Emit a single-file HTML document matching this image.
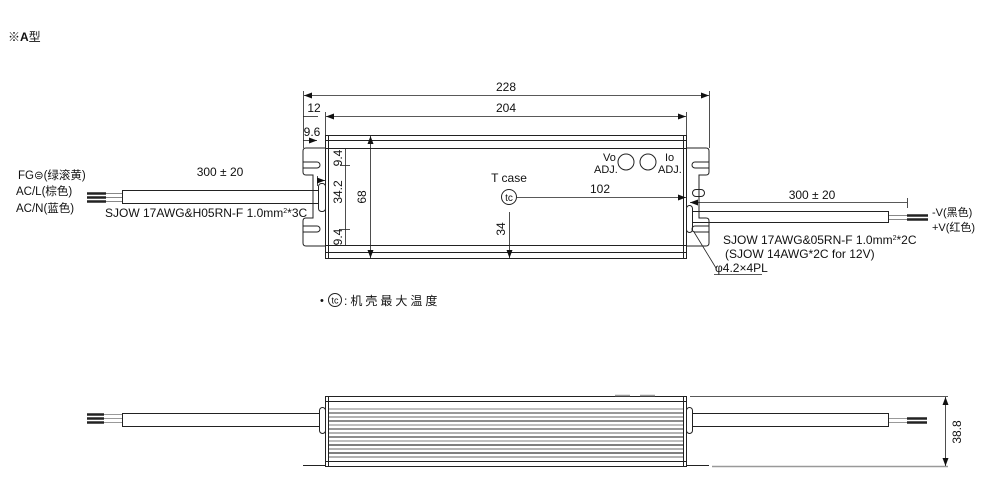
<!DOCTYPE html>
<html><head><meta charset="utf-8"><style>
html,body{margin:0;padding:0;background:#fff;}
svg{display:block;}
text{font-family:"Liberation Sans","Noto Sans CJK SC",sans-serif;fill:#111;}
</style></head><body>
<svg width="984" height="489" viewBox="0 0 984 489" xmlns="http://www.w3.org/2000/svg">
<defs>
<marker id="a" markerWidth="8" markerHeight="6" refX="8" refY="3" orient="auto-start-reverse" markerUnits="userSpaceOnUse"><path d="M0,0 L8,3 L0,6 z" fill="#111"/></marker>
</defs>
<text x="8" y="41" font-size="12" font-weight="bold">※A<tspan font-weight="normal">型</tspan></text>

<g stroke="#222" fill="none" stroke-width="1">
<rect x="325.5" y="135.5" width="361" height="123"/>
<line x1="328.5" y1="136" x2="328.5" y2="258"/>
<line x1="683.5" y1="136" x2="683.5" y2="258"/>
<line x1="326" y1="140.5" x2="686" y2="140.5"/>
<line x1="326" y1="148.5" x2="686" y2="148.5"/>
<line x1="326" y1="245.5" x2="686" y2="245.5"/>
<line x1="326" y1="252.5" x2="686" y2="252.5"/>
<path d="M325,148 H306 Q303,148 303,151 V172 Q303,175 306,175 L313,175 V218 L306,218 Q303,218 303,221 V243 Q303,246 306,246 H325"/>
<path d="M303,162 H317 A3,3 0 0 1 317,168 H303"/>
<path d="M303,226 H317 A3,3 0 0 1 317,232 H303"/>
<path d="M686,148 H706 Q709,148 709,151 V172 Q709,175 706,175 L699,175 V218 L706,218 Q709,218 709,221 V243 Q709,246 706,246 H686"/>
<path d="M709,162 H695 A3,3 0 0 0 695,168 H709"/>
<path d="M709,226 H695 A3,3 0 0 0 695,232 H709"/>
<rect x="692.5" y="189.5" width="12" height="7" rx="3.5"/>
<rect x="318.5" y="183.5" width="7" height="28" rx="3"/>
<rect x="686.5" y="205.5" width="6" height="27" rx="3"/>
<rect x="122.5" y="190.5" width="196" height="13"/>
<line x1="106" y1="193.5" x2="122" y2="193.5" stroke="#888"/>
<line x1="106" y1="197.5" x2="122" y2="197.5" stroke="#888"/>
<line x1="106" y1="201.5" x2="122" y2="201.5" stroke="#888"/>
<line x1="87" y1="193.5" x2="106" y2="193.5" stroke-width="2.5"/>
<line x1="87" y1="197.5" x2="106" y2="197.5" stroke-width="2.5"/>
<line x1="87" y1="201.5" x2="106" y2="201.5" stroke-width="2.5"/>
<rect x="692.5" y="211.5" width="196" height="11"/>
<line x1="889" y1="215.5" x2="907" y2="215.5" stroke="#888"/>
<line x1="889" y1="219.5" x2="907" y2="219.5" stroke="#888"/>
<line x1="907" y1="215.5" x2="928" y2="215.5" stroke-width="2.5"/>
<line x1="907" y1="219.5" x2="928" y2="219.5" stroke-width="2.5"/>
<circle cx="626" cy="162" r="8"/>
<circle cx="648" cy="162" r="8"/>
<circle cx="509" cy="197" r="7.5"/>
</g>

<g stroke="#222" stroke-width="0.8" fill="none">
<line x1="303.5" y1="91" x2="303.5" y2="148"/>
<line x1="709.5" y1="91" x2="709.5" y2="148"/>
<line x1="325.5" y1="112" x2="325.5" y2="135"/>
<line x1="686.5" y1="112" x2="686.5" y2="135"/>
<line x1="304" y1="95.5" x2="709" y2="95.5" marker-start="url(#a)" marker-end="url(#a)"/>
<line x1="326" y1="116.5" x2="686" y2="116.5" marker-start="url(#a)" marker-end="url(#a)"/>
<line x1="303" y1="116.5" x2="318" y2="116.5"/>
<line x1="303" y1="140.5" x2="317" y2="140.5" marker-end="url(#a)"/>
<line x1="370.5" y1="136" x2="370.5" y2="258" marker-start="url(#a)" marker-end="url(#a)"/>
<line x1="345.5" y1="149" x2="345.5" y2="245"/>
<line x1="340" y1="165.5" x2="350" y2="165.5"/>
<line x1="340" y1="229.5" x2="350" y2="229.5"/>
<line x1="517" y1="197.5" x2="686" y2="197.5" marker-end="url(#a)"/>
<line x1="509.5" y1="212" x2="509.5" y2="258" marker-end="url(#a)"/>
<line x1="317.5" y1="176" x2="317.5" y2="186"/>
<line x1="318" y1="180.5" x2="325" y2="180.5" marker-end="url(#a)"/>
<line x1="907.5" y1="198" x2="907.5" y2="208"/>
<line x1="690" y1="202.5" x2="907" y2="202.5" marker-start="url(#a)"/>
<line x1="694" y1="232" x2="716" y2="268"/>
<line x1="714" y1="274.5" x2="762" y2="274.5"/>
</g>

<g font-size="12">
<text x="506" y="91" text-anchor="middle">228</text>
<text x="506" y="112" text-anchor="middle">204</text>
<text x="314" y="112" text-anchor="middle">12</text>
<text x="312" y="136" text-anchor="middle">9.6</text>
<text transform="translate(366,197) rotate(-90)" text-anchor="middle">68</text>
<text transform="translate(342,192) rotate(-90)" text-anchor="middle">34.2</text>
<text transform="translate(342,158) rotate(-90)" text-anchor="middle">9.4</text>
<text transform="translate(342,237) rotate(-90)" text-anchor="middle">9.4</text>
<text transform="translate(505,229) rotate(-90)" text-anchor="middle">34</text>
<text x="509" y="182" text-anchor="middle">T case</text>
<text x="509" y="201" text-anchor="middle" font-size="10">tc</text>
<text x="600" y="193" text-anchor="middle">102</text>
<text x="603" y="161" font-size="11">Vo</text>
<text x="594" y="173" font-size="11">ADJ.</text>
<text x="665" y="161" font-size="11">Io</text>
<text x="658" y="173" font-size="11">ADJ.</text>
<text x="220" y="176" text-anchor="middle">300 ± 20</text>
<text x="18" y="179" font-size="11.5">FG⊜(绿滚黄)</text>
<text x="16" y="195" font-size="11.5">AC/L(棕色)</text>
<text x="16" y="212" font-size="11.5">AC/N(蓝色)</text>
<text x="105" y="217" font-size="12">SJOW 17AWG&amp;H05RN-F 1.0mm<tspan font-size="7" dy="-4">2</tspan><tspan dy="4">*3C</tspan></text>
<text x="812" y="199" text-anchor="middle">300 ± 20</text>
<text x="932" y="216" font-size="11">-V(黑色)</text>
<text x="932" y="231" font-size="11">+V(红色)</text>
<text x="723" y="244" font-size="12">SJOW 17AWG&amp;05RN-F 1.0mm<tspan font-size="7" dy="-4">2</tspan><tspan dy="4">*2C</tspan></text>
<text x="725" y="258" font-size="12">(SJOW 14AWG*2C for 12V)</text>
<text x="715" y="272" font-size="12">φ4.2×4PL</text>
<text x="320" y="304" font-size="11">•</text>
<circle cx="335" cy="300" r="6.5" fill="none" stroke="#222"/>
<text x="335" y="303.5" font-size="9" text-anchor="middle">tc</text>
<text x="344" y="305" font-size="12" letter-spacing="3">:机壳最大温度</text>
</g>

<g stroke="#222" fill="none" stroke-width="1">
<rect x="325.5" y="396.5" width="361" height="70"/>
<line x1="328.5" y1="397" x2="328.5" y2="466"/>
<line x1="683.5" y1="397" x2="683.5" y2="466"/>
<line x1="326" y1="401.5" x2="686" y2="401.5"/>
<line x1="326" y1="461.5" x2="686" y2="461.5"/>
<line x1="303" y1="465.5" x2="325" y2="465.5"/>
<line x1="686" y1="465.5" x2="709" y2="465.5"/>
<rect x="319.5" y="407.5" width="6" height="26" rx="3"/>
<rect x="686.5" y="407.5" width="6" height="26" rx="3"/>
<rect x="122.5" y="413.5" width="197" height="13"/>
<rect x="692.5" y="413.5" width="196" height="13"/>
<line x1="87" y1="414.5" x2="104" y2="414.5" stroke-width="2.5"/>
<line x1="87" y1="418.5" x2="104" y2="418.5" stroke-width="2.5"/>
<line x1="87" y1="422.5" x2="104" y2="422.5" stroke-width="2.5"/>
<line x1="104" y1="414.5" x2="122" y2="414.5" stroke="#999"/>
<line x1="104" y1="418.5" x2="122" y2="418.5" stroke="#999"/>
<line x1="104" y1="422.5" x2="122" y2="422.5" stroke="#999"/>
<line x1="889" y1="418.5" x2="907" y2="418.5" stroke="#999"/>
<line x1="889" y1="422.5" x2="907" y2="422.5" stroke="#999"/>
<line x1="907" y1="418.5" x2="927" y2="418.5" stroke-width="2.5"/>
<line x1="907" y1="422.5" x2="927" y2="422.5" stroke-width="2.5"/>
<line x1="615" y1="395.5" x2="630" y2="395.5" stroke="#999" stroke-width="1.5"/>
<line x1="640" y1="395.5" x2="655" y2="395.5" stroke="#999" stroke-width="1.5"/>
</g>
<g stroke-width="1.5">
<line x1="329" y1="409" x2="683" y2="409" stroke="#aaa"/>
<line x1="329" y1="413" x2="683" y2="413" stroke="#777"/>
<line x1="329" y1="417" x2="683" y2="417" stroke="#999"/>
<line x1="329" y1="421" x2="683" y2="421" stroke="#666"/>
<line x1="329" y1="425" x2="683" y2="425" stroke="#aaa"/>
<line x1="329" y1="429" x2="683" y2="429" stroke="#777"/>
<line x1="329" y1="433" x2="683" y2="433" stroke="#999"/>
<line x1="329" y1="437" x2="683" y2="437" stroke="#666"/>
<line x1="329" y1="441" x2="683" y2="441" stroke="#aaa"/>
<line x1="329" y1="445" x2="683" y2="445" stroke="#555"/>
<line x1="329" y1="449" x2="683" y2="449" stroke="#999"/>
<line x1="329" y1="453" x2="683" y2="453" stroke="#555"/>
<line x1="329" y1="457" x2="683" y2="457" stroke="#999"/>
</g>
<g stroke="#222" stroke-width="0.8" fill="none">
<line x1="690" y1="396.5" x2="948" y2="396.5"/>
<line x1="712" y1="466.5" x2="948" y2="466.5" stroke="#999" stroke-width="1.5"/>
<line x1="945.5" y1="397" x2="945.5" y2="466" marker-start="url(#a)" marker-end="url(#a)"/>
</g>
<text transform="translate(961,432) rotate(-90)" text-anchor="middle" font-size="12">38.8</text>
</svg>
</body></html>
